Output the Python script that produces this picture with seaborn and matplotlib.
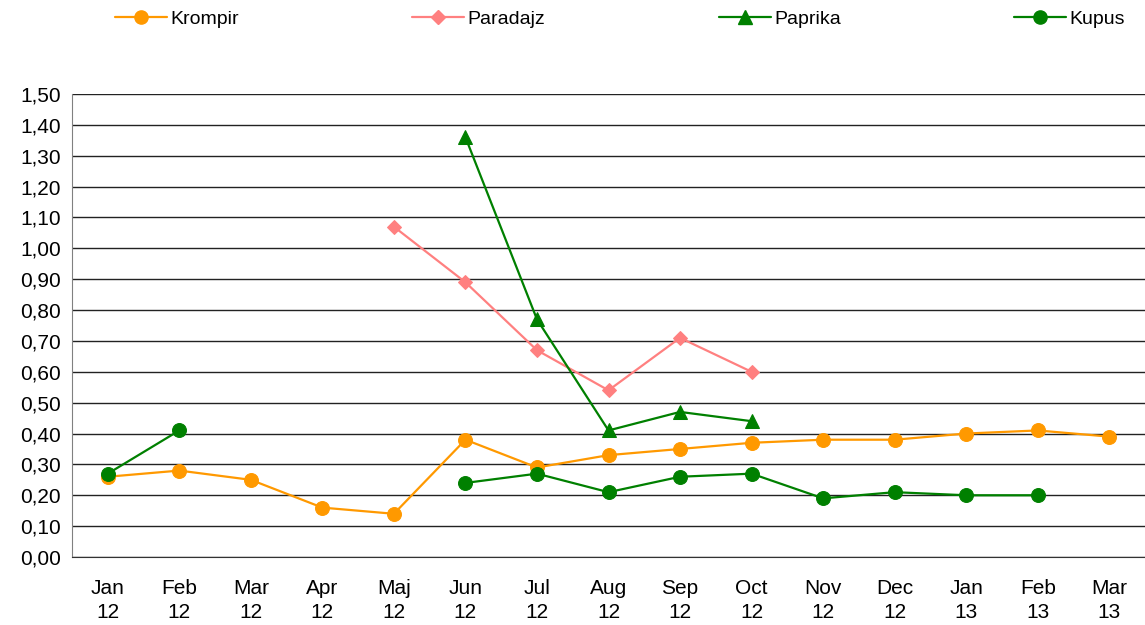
import numpy as np
import pandas as pd
import seaborn as sns
import matplotlib.pyplot as plt
from matplotlib.lines import Line2D
from matplotlib.ticker import FuncFormatter, MultipleLocator

sns.set_style("white")
plt.rcParams['font.family'] = ['Liberation Sans', 'DejaVu Sans']
plt.rcParams['text.color'] = 'black'
plt.rcParams['xtick.color'] = 'black'
plt.rcParams['ytick.color'] = 'black'

months = ["Jan\n12", "Feb\n12", "Mar\n12", "Apr\n12", "Maj\n12", "Jun\n12", "Jul\n12",
          "Aug\n12", "Sep\n12", "Oct\n12", "Nov\n12", "Dec\n12", "Jan\n13", "Feb\n13", "Mar\n13"]
nan = np.nan
krompir = [0.26, 0.28, 0.25, 0.16, 0.14, 0.38, 0.29, 0.33, 0.35, 0.37, 0.38, 0.38, 0.40, 0.41, 0.39]
paradajz = [nan, nan, nan, nan, 1.07, 0.89, 0.67, 0.54, 0.71, 0.60, nan, nan, nan, nan, nan]
paprika = [nan, nan, nan, nan, nan, 1.36, 0.77, 0.41, 0.47, 0.44, nan, nan, nan, nan, nan]
kupus = [0.27, 0.41, nan, nan, nan, 0.24, 0.27, 0.21, 0.26, 0.27, 0.19, 0.21, 0.20, 0.20, nan]

series = [
    ("Krompir", krompir, "#FF9900", "o", 10),
    ("Paradajz", paradajz, "#FF8080", "D", 7),
    ("Paprika", paprika, "#008000", "^", 10),
    ("Kupus", kupus, "#008000", "o", 10),
]
legend_x = [115, 412, 719, 1014]  # pixel where each legend entry starts

fig = plt.figure(figsize=(11.45, 6.25), dpi=100)
ax = fig.add_axes([72 / 1145, 1 - 557 / 625, 1073 / 1145, 463 / 625])

for (name, vals, col, mk, ms), lx in zip(series, legend_x):
    df = pd.DataFrame({"x": np.arange(len(vals)), "y": vals})
    # split into contiguous segments so gaps stay gaps
    df["seg"] = df["y"].isna().cumsum()
    df = df.dropna()
    for _, part in df.groupby("seg"):
        sns.lineplot(data=part, x="x", y="y", ax=ax, color=col, marker=mk,
                     markersize=ms, markeredgecolor=col, linewidth=1.6,
                     estimator=None, sort=False, legend=False)
    h = Line2D([], [], color=col, marker=mk, markersize=ms * 0.95,
               markeredgecolor=col, linewidth=1.6, label=name)
    leg = fig.legend(handles=[h], loc="center left",
                     bbox_to_anchor=(lx / 1145, 1 - 19 / 625),
                     frameon=False, fontsize=14, handlelength=2.65,
                     handletextpad=0.2, borderpad=0, borderaxespad=0)

ax.set_xlim(-0.5, len(months) - 0.5)
ax.set_ylim(0, 1.5)
ax.yaxis.set_major_locator(MultipleLocator(0.1))
ax.yaxis.set_major_formatter(FuncFormatter(lambda v, p: f"{v:.2f}".replace(".", ",")))
ax.set_xticks(np.arange(len(months)))
ax.set_xticklabels(months, fontsize=15, linespacing=1.35)
ax.set_xticks(np.arange(len(months) + 1) - 0.5, minor=True)
ax.tick_params(axis="x", which="major", length=0, pad=16)
ax.tick_params(axis="x", which="minor", length=6, width=1, color="#333333", direction="out")
ax.tick_params(axis="y", length=5, width=1, color="#333333", direction="out", labelsize=15, pad=3)
ax.set_xlabel("")
ax.set_ylabel("")

ax.grid(axis="y", color="#222222", linewidth=1)
ax.set_axisbelow(True)
for s in ["top", "right"]:
    ax.spines[s].set_visible(False)
ax.spines["left"].set_color("#808080")
ax.spines["bottom"].set_color("#333333")

fig.savefig("out.png", dpi=100)
